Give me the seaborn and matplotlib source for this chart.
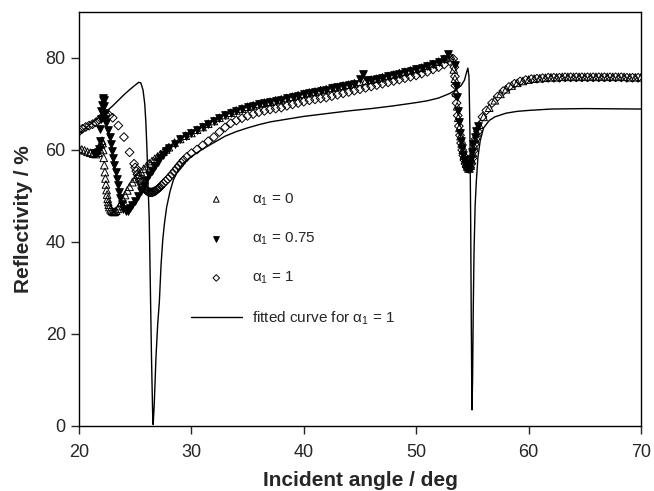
import matplotlib
matplotlib.use("Agg")
import matplotlib.pyplot as plt
import numpy as np
import pandas as pd
import seaborn as sns

# reflectivity data
a0_angle = [20.0, 20.25, 20.5, 20.75, 21.0, 21.25, 21.5, 21.7, 21.85, 21.95, 22.05, 22.1,
            22.15, 22.2, 22.25, 22.3, 22.35, 22.4, 22.45, 22.5, 22.55, 22.6, 22.65, 22.7,
            22.8, 22.9, 23.0, 23.1, 23.2, 23.3, 23.45, 23.6, 23.75, 23.9, 24.1, 24.3, 24.5,
            24.75, 25.0, 25.25, 25.5, 25.75, 26.0, 26.25, 26.5, 26.75, 27.0, 27.25, 27.5,
            27.75, 28.0, 28.5, 29.0, 29.5, 30.0, 30.5, 31.0, 31.5, 32.0, 32.5, 33.0, 33.5,
            34.0, 34.5, 35.0, 35.5, 36.0, 36.5, 37.0, 37.5, 38.0, 38.5, 39.0, 39.5, 40.0,
            40.5, 41.0, 41.5, 42.0, 42.5, 43.0, 43.5, 44.0, 44.5, 45.0, 45.5, 46.0, 46.5,
            47.0, 47.5, 48.0, 48.5, 49.0, 49.5, 50.0, 50.5, 51.0, 51.5, 52.0, 52.5, 53.0,
            53.2, 53.35, 53.45, 53.55, 53.65, 53.75, 53.85, 53.95, 54.05, 54.15, 54.25,
            54.35, 54.45, 54.55, 54.65, 54.75, 54.85, 54.95, 55.05, 55.15, 55.25, 55.4,
            55.6, 56.0, 56.5, 57.0, 57.5, 58.0, 58.5, 59.0, 59.5, 60.0, 60.5, 61.0, 61.5,
            62.0, 62.5, 63.0, 63.5, 64.0, 64.5, 65.0, 65.5, 66.0, 66.5, 67.0, 67.5, 68.0,
            68.5, 69.0, 69.5, 70.0]
a0_refl = [60.3, 60.1, 59.9, 59.6, 59.4, 59.2, 59.1, 59.4, 60.2, 61.2, 62.0, 61.5,
           60.0, 58.3, 56.7, 55.2, 53.8, 52.5, 51.3, 50.3, 49.4, 48.7, 48.1, 47.6,
           47.1, 46.8, 46.6, 46.5, 46.6, 46.8, 47.2, 47.8, 48.5, 49.3, 50.2, 51.2, 52.0,
           53.0, 53.8, 54.6, 55.3, 55.9, 56.5, 57.1, 57.6, 58.1, 58.6, 59.1, 59.6,
           60.1, 60.6, 61.6, 62.4, 63.1, 63.7, 64.4, 65.0, 65.7, 66.3, 67.0, 67.6, 68.1,
           68.6, 69.0, 69.4, 69.7, 70.0, 70.3, 70.5, 70.8, 71.0, 71.3, 71.6, 71.9, 72.2,
           72.5, 72.7, 73.0, 73.2, 73.5, 73.7, 74.0, 74.2, 74.5, 74.8, 75.0, 75.3, 75.5,
           75.8, 76.1, 76.4, 76.7, 77.0, 77.3, 77.6, 77.9, 78.3, 78.7, 79.2, 79.8, 80.4,
           80.0, 77.5, 75.5, 72.5, 69.5, 67.0, 64.8, 63.0, 61.4, 60.0, 58.8,
           57.8, 57.0, 56.4, 56.0, 56.0, 56.6, 57.8, 59.4, 61.0, 62.4, 63.8,
           65.5, 67.2, 69.2, 70.8, 72.2, 73.2, 74.0, 74.6, 75.0, 75.3, 75.5, 75.6, 75.7,
           75.8, 75.8, 75.9, 75.9, 75.9, 75.9, 75.9, 75.9, 75.9, 75.9, 75.9, 75.9, 75.9,
           75.9, 75.8, 75.8, 75.8]

a75_angle = [21.3, 21.5, 21.65, 21.8, 21.85, 21.9, 21.95, 22.0, 22.05, 22.1, 22.15, 22.2,
             22.25, 22.3, 22.35, 22.4, 22.6, 22.75, 22.85, 22.95, 23.05, 23.15, 23.25,
             23.35, 23.45, 23.55, 23.65, 23.8, 23.95, 24.15, 24.35, 24.55, 24.75, 25.0,
             25.25, 25.5, 25.75, 26.0, 26.25, 26.5, 26.75, 27.0, 27.25, 27.5, 27.75, 28.0,
             28.5, 29.0, 29.5, 30.0, 30.5, 31.0, 31.5, 32.0, 32.5, 33.0, 33.5, 34.0, 34.5,
             35.0, 35.5, 36.0, 36.5, 37.0, 37.5, 38.0, 38.5, 39.0, 39.5, 40.0, 40.5, 41.0,
             41.5, 42.0, 42.5, 43.0, 43.5, 44.0, 44.5, 45.0, 45.3, 45.6, 46.0, 46.5, 47.0,
             47.5, 48.0, 48.5, 49.0, 49.5, 50.0, 50.5, 51.0, 51.5, 52.0, 52.5, 52.8, 53.45,
             53.55, 53.6, 53.7, 53.8, 53.9, 54.0, 54.1, 54.2, 54.3, 54.4, 54.5, 54.6, 54.7,
             54.8, 54.9, 55.0, 55.1, 55.2, 55.35, 55.5]
a75_refl = [59.4, 59.3, 59.5, 60.2, 62.0, 64.5, 66.8, 68.5, 69.8, 70.8, 71.2, 70.8,
            69.5, 68.0, 66.8, 65.8, 64.3, 62.8, 61.3, 59.7, 58.2, 56.7, 55.2,
            53.8, 52.3, 50.9, 49.5, 48.2, 47.2, 46.7, 46.8, 47.3, 48.0, 49.0,
            50.0, 51.0, 52.2, 53.4, 54.5, 55.5, 56.5, 57.4, 58.2, 59.0, 59.8, 60.4,
            61.4, 62.3, 63.0, 63.6, 64.3, 64.9, 65.6, 66.2, 66.9, 67.5, 68.0, 68.5, 68.9,
            69.3, 69.6, 69.9, 70.2, 70.4, 70.7, 70.9, 71.2, 71.5, 71.8, 72.1, 72.4, 72.6,
            72.9, 73.1, 73.4, 73.6, 73.9, 74.1, 74.4, 75.5, 76.5, 75.3, 75.2, 75.4, 75.7,
            76.0, 76.3, 76.6, 76.9, 77.2, 77.5, 77.8, 78.2, 78.6, 79.1, 79.8, 80.8, 78.5,
            74.0, 71.5, 68.5, 66.0, 63.8, 62.0, 60.4, 59.0, 57.9, 57.0, 56.4, 56.1, 56.2,
            56.9, 58.0, 59.6, 61.3, 62.8, 64.2, 65.3]

a1_angle = [20.0, 20.3, 20.6, 20.9, 21.2, 21.5, 21.8, 22.1, 22.4, 22.7, 23.0, 23.5, 24.0,
            24.5, 24.9, 25.0, 25.1, 25.2, 25.3, 25.4, 25.5, 25.6, 25.7, 25.8, 25.9, 26.0,
            26.1, 26.2, 26.3, 26.4, 26.5, 26.6, 26.7, 26.8, 26.9, 27.0, 27.1, 27.2, 27.35,
            27.5, 27.7, 27.9, 28.1, 28.3, 28.5, 28.7, 28.9, 29.1, 29.3, 29.6, 30.0, 30.5,
            31.0, 31.5, 32.0, 32.5, 33.0, 33.5, 34.0, 34.5, 35.0, 35.5, 36.0, 36.5, 37.0,
            37.5, 38.0, 38.5, 39.0, 39.5, 40.0, 40.5, 41.0, 41.5, 42.0, 42.5, 43.0, 43.5,
            44.0, 44.5, 45.0, 45.5, 46.0, 46.5, 47.0, 47.5, 48.0, 48.5, 49.0, 49.5, 50.0,
            50.5, 51.0, 51.5, 52.0, 52.5, 53.0, 53.3, 53.4, 53.45, 53.5, 53.55, 53.6, 53.7,
            53.8, 53.9, 54.0, 54.1, 54.2, 54.3, 54.4, 54.5, 54.6, 54.7, 54.8, 54.9, 55.0,
            55.1, 55.2, 55.3, 55.5, 55.9, 56.25, 56.75, 57.25, 57.75, 58.25, 58.75, 59.25,
            59.75, 60.25, 60.75, 61.25, 61.75, 62.25, 62.75, 63.25, 63.75, 64.25, 64.75,
            65.25, 65.75, 66.25, 66.75, 67.25, 67.75, 68.25, 68.75, 69.25, 69.75]
a1_refl = [64.0, 64.6, 65.0, 65.3, 65.6, 66.0, 66.6, 67.3, 67.6, 67.5, 67.0, 65.3, 62.8,
           59.5, 57.0, 56.2, 55.4, 54.7, 54.0, 53.4, 52.9, 52.4, 52.0, 51.7, 51.4, 51.2,
           51.0, 50.9, 50.8, 50.8, 50.8, 50.9, 51.0, 51.1, 51.3, 51.5, 51.7, 51.9, 52.3,
           52.7, 53.2, 53.7, 54.2, 54.8, 55.4, 56.0, 56.6, 57.2, 57.8, 58.5, 59.3, 60.1,
           61.0, 61.9, 62.8, 63.9, 64.9, 65.8, 66.4, 66.9, 67.4, 67.8, 68.2, 68.5, 68.8,
           69.0, 69.2, 69.6, 69.9, 70.2, 70.5, 70.8, 71.0, 71.2, 71.4, 71.7, 72.0, 72.3,
           72.6, 72.9, 73.2, 73.5, 73.8, 74.1, 74.4, 74.7, 75.0, 75.3, 75.6, 75.9, 76.2,
           76.6, 77.0, 77.5, 78.0, 78.6, 79.3, 79.8, 78.0, 76.0, 74.0, 72.0, 70.2, 67.5,
           65.2, 63.2, 61.5, 60.0, 58.8, 57.8, 57.0, 56.4, 56.0, 55.9, 56.2, 57.0, 58.2,
           59.8, 61.2, 62.4, 64.0, 67.2, 68.6, 70.2, 71.6, 72.8, 73.7, 74.4, 74.9,
           75.2, 75.4, 75.5, 75.6, 75.7, 75.7, 75.7, 75.8, 75.8, 75.8, 75.8,
           75.8, 75.8, 75.8, 75.8, 75.8, 75.8, 75.8, 75.7, 75.7, 75.7]

fit_angle = [20.0, 20.5, 21.0, 21.5, 22.0, 22.5, 23.0, 23.5, 24.0, 24.5, 25.0, 25.3, 25.5,
             25.7, 25.85, 25.95, 26.05, 26.15, 26.25, 26.35, 26.45, 26.55, 26.6, 26.7,
             26.85, 27.0, 27.15, 27.3, 27.45, 27.6, 27.8, 28.1, 28.4, 28.8, 29.3, 30.0,
             31.0, 32.0, 33.0, 34.0, 35.0, 36.0, 37.0, 38.0, 39.0, 40.0, 42.0, 44.0, 46.0,
             48.0, 50.0, 51.0, 52.0, 53.0, 53.5, 54.0, 54.3, 54.5, 54.6, 54.7, 54.78,
             54.85, 54.9, 54.95, 54.97, 55.02, 55.08, 55.15, 55.25, 55.35, 55.5, 55.7,
             56.0, 56.5, 57.0, 58.0, 59.0, 60.0, 62.0, 65.0, 70.0]
fit_refl = [63.5, 64.6, 65.6, 66.5, 67.4, 68.5, 69.6, 70.8, 72.0, 73.1, 74.1, 74.7, 74.6,
            73.0, 70.0, 66.0, 60.0, 52.0, 45.0, 30.0, 15.0, 3.0, 0.3, 5.0,
            15.0, 22.0, 27.0, 35.0, 40.4, 44.0, 47.6, 51.0, 53.5, 55.5, 57.2, 58.6,
            60.2, 61.6, 63.0, 64.0, 64.8, 65.5, 66.1, 66.5, 66.9, 67.3, 67.9, 68.5, 69.0,
            69.6, 70.3, 70.7, 71.3, 72.3, 73.0, 74.0, 75.2, 77.0, 77.8, 76.0, 65.0,
            45.0, 25.0, 8.0, 3.5, 10.0, 25.0, 38.0, 48.0, 53.0, 58.5, 62.0,
            64.8, 66.4, 67.2, 68.0, 68.4, 68.6, 68.9, 69.0, 68.9]

sns.set_style("ticks")
plt.rcParams["font.family"] = ["Liberation Sans", "DejaVu Sans"]
plt.rcParams["mathtext.fontset"] = "custom"
plt.rcParams["mathtext.rm"] = "Liberation Sans"
plt.rcParams["mathtext.it"] = "Liberation Sans"
plt.rcParams["mathtext.default"] = "regular"

fig = plt.figure(figsize=(6.54, 4.91), dpi=100)
ax = fig.add_axes([0.1208, 0.1324, 0.8592, 0.8432])

mk = dict(color="black", linewidth=0.7, ax=ax)
sns.scatterplot(x=a0_angle, y=a0_refl, marker="^", s=30, facecolors="none",
                edgecolor="black", label=r"$\alpha_1$ = 0", **mk)
sns.scatterplot(x=a75_angle, y=a75_refl, marker="v", s=30, facecolors="black",
                edgecolor="black", label=r"$\alpha_1$ = 0.75", **mk)
sns.scatterplot(x=a1_angle, y=a1_refl, marker="D", s=20, facecolors="none",
                edgecolor="black", label=r"$\alpha_1$ = 1", **mk)
sns.lineplot(x=fit_angle, y=fit_refl, color="black", linewidth=1.0, sort=False,
             estimator=None, ax=ax, label=r"fitted curve for $\alpha_1$ = 1")

ax.set_xlim(20, 70)
ax.set_ylim(0, 90)
ax.set_xticks([20, 30, 40, 50, 60, 70])
ax.set_yticks([0, 20, 40, 60, 80])
ax.tick_params(axis="both", direction="out", length=6, width=1, labelsize=13,
               top=False, right=False)
ax.tick_params(axis="x", pad=7)
for sp in ax.spines.values():
    sp.set_linewidth(1.0)
    sp.set_color("black")

ax.set_xlabel("Incident angle / deg", fontsize=15, fontweight="bold", labelpad=7)
ax.set_ylabel("Reflectivity / %", fontsize=15, fontweight="bold", labelpad=9)

ax.legend(loc="upper left", bbox_to_anchor=(0.175, 0.6), frameon=False,
          fontsize=11, handlelength=3.3, handletextpad=0.7, labelspacing=1.5,
          markerscale=0.75)

fig.savefig("out.png", dpi=100)
